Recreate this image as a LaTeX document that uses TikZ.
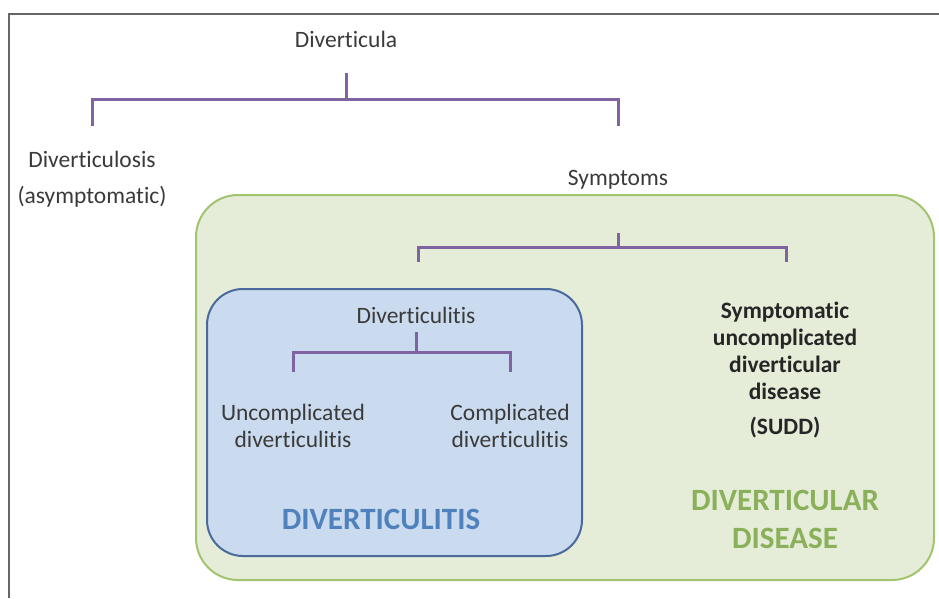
\documentclass[tikz,border=0pt]{standalone}
\usepackage{fontspec}
\setmainfont{Carlito}[Ligatures=NoCommon]
\definecolor{brc}{HTML}{8064A2}
\definecolor{gfill}{HTML}{E5EDD9}
\definecolor{gline}{HTML}{A3C46E}
\definecolor{bfill}{HTML}{CBDBEF}
\definecolor{bline}{HTML}{4A6A9C}
\definecolor{btitle}{HTML}{4F81BD}
\definecolor{gtitle}{HTML}{8AB05A}
\definecolor{txt}{HTML}{3A3A3A}
\begin{document}
\begin{tikzpicture}[x=1pt,y=-1pt,
  lbl/.style={inner sep=0pt,align=center,text=txt,font=\fontsize{23.5}{27}\selectfont},
  blbl/.style={inner sep=0pt,align=center,text=black!85,font=\fontsize{23.5}{27}\selectfont\bfseries},
  title/.style={inner sep=0pt,align=center,font=\fontsize{31}{38}\selectfont\bfseries},
  br/.style={draw=brc,line width=3pt}]
\useasboundingbox (0,0) rectangle (939,598);
% partial frame
\draw[gray!80!black,line width=2pt] (9,598) -- (9,14) -- (939,14);
% boxes
\node[draw=gline,fill=gfill,line width=2pt,rounded corners=42pt,minimum width=738pt,minimum height=385pt,inner sep=0pt] (dd) at (565,387.5) {};
\node[draw=bline,fill=bfill,line width=2pt,rounded corners=36pt,minimum width=375pt,minimum height=267pt,inner sep=0pt] (dt) at (394.5,422.5) {};
% texts
\node[lbl] (diverticula) at (346,39) {Diverticula};
\node[lbl] (diverticulosis) at (92,179) {Diverticulosis\\[9pt](asymptomatic)};
\node[lbl] (symptoms) at (618,180) {Symptoms};
\node[lbl] (diverticulitis) at (416,315) {Diverticulitis};
\node[lbl] (uncomp) at (293,426) {Uncomplicated\\diverticulitis};
\node[lbl] (comp) at (510,426) {Complicated\\diverticulitis};
\node[blbl] (sudd) at (785,351) {Symptomatic\\uncomplicated\\diverticular\\disease};
\node[blbl] (suddabbr) at (785,428) {(SUDD)};
\node[title,text=btitle] (ttl1) at (381,519) {DIVERTICULITIS};
\node[title,text=gtitle] (ttl2) at (785,519) {DIVERTICULAR\\DISEASE};
% bracket coordinates
\coordinate (s1) at (346,73);  \coordinate (j1) at (346,99);
\coordinate (l1) at (92,126);  \coordinate (r1) at (618,126);
\coordinate (s2) at (618,233); \coordinate (j2) at (618,247);
\coordinate (l2) at (418,262); \coordinate (r2) at (786,262);
\coordinate (s3) at (416,332); \coordinate (j3) at (416,352);
\coordinate (l3) at (293,372); \coordinate (r3) at (510,372);
% brackets
\draw[br] (s1) -- (j1);
\draw[br] (l1) |- (j1) -| (r1);
\draw[br] (s2) -- (j2);
\draw[br] (l2) |- (j2) -| (r2);
\draw[br] (s3) -- (j3);
\draw[br] (l3) |- (j3) -| (r3);
\end{tikzpicture}
\end{document}
